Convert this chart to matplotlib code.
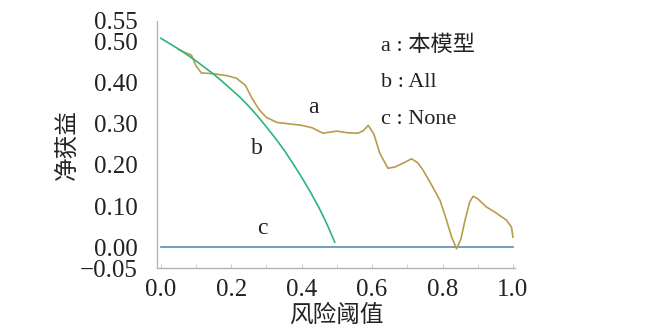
import matplotlib.pyplot as plt

# 阈值 / 净获益
x_a = [0.05, 0.07, 0.087, 0.10, 0.115, 0.15, 0.19, 0.215, 0.24, 0.26, 0.28, 0.30,
       0.33, 0.36, 0.40, 0.43, 0.46, 0.50, 0.53, 0.56, 0.575, 0.589, 0.605, 0.622,
       0.645, 0.665, 0.69, 0.712, 0.73, 0.745, 0.77, 0.793, 0.81, 0.826, 0.84,
       0.852, 0.864, 0.877, 0.887, 0.90, 0.925, 0.95, 0.982, 0.996, 1.0]
y_a = [0.480, 0.472, 0.466, 0.440, 0.423, 0.421, 0.416, 0.410, 0.393, 0.360, 0.333, 0.315,
       0.303, 0.300, 0.296, 0.290, 0.277, 0.282, 0.278, 0.277, 0.283, 0.296, 0.275, 0.228,
       0.192, 0.195, 0.205, 0.215, 0.205, 0.187, 0.150, 0.114, 0.070, 0.025, -0.003,
       0.020, 0.066, 0.110, 0.124, 0.118, 0.098, 0.085, 0.066, 0.049, 0.025]

x_b = [0.0, 0.025, 0.05, 0.075, 0.10, 0.125, 0.15, 0.175, 0.20, 0.225, 0.25,
       0.275, 0.30, 0.325, 0.35, 0.375, 0.40, 0.425, 0.45, 0.47, 0.494]
y_b = [0.507, 0.494, 0.481, 0.467, 0.452, 0.436, 0.420, 0.402, 0.383, 0.364, 0.342,
       0.318, 0.292, 0.265, 0.236, 0.204, 0.170, 0.134, 0.095, 0.060, 0.013]

x_c = [0.0, 1.0]
y_c = [0.0, 0.0]

yticks = [-0.05, 0.00, 0.10, 0.20, 0.30, 0.40, 0.50, 0.55]
ytick_labels = ['−0.05', '0.00', '0.10', '0.20', '0.30', '0.40', '0.50', '0.55']
xticks = [0.0, 0.2, 0.4, 0.6, 0.8, 1.0]

fam = ['Liberation Serif', 'Noto Sans CJK SC']
plt.rcParams['font.family'] = fam

fig = plt.figure(figsize=(6.68, 3.31), dpi=100)
ax = fig.add_axes([0.235, 0.190, 0.536, 0.748])

ax.plot(x_c, y_c, color='#5b8db5', lw=1.2)
ax.plot(x_a, y_a, color='#b89c4e', lw=1.2)
ax.plot(x_b, y_b, color='#2db37d', lw=1.2)

ax.set_xlim(-0.011, 1.006)
ax.set_ylim(-0.05, 0.55)
ax.set_yticks(yticks)
ax.set_yticklabels(ytick_labels)
ax.set_xticks(xticks)
ax.set_xticklabels(['0.0', '0.2', '0.4', '0.6', '0.8', '1.0'])
ax.set_xticks([0.1, 0.3, 0.5, 0.7, 0.9], minor=True)
ax.tick_params(axis='y', length=0, labelsize=18, colors='#222222', pad=14)
ax.tick_params(axis='x', which='both', direction='in', length=3, color='#cccccc',
               labelsize=18, labelcolor='#222222', pad=8)

for s in ['top', 'right']:
    ax.spines[s].set_visible(False)
for s in ['left', 'bottom']:
    ax.spines[s].set_color('#b5b5b5')
    ax.spines[s].set_linewidth(1.0)

ax.set_xlabel('风险阈值', fontsize=17, color='#222222', labelpad=2)
ax.set_ylabel('净获益', fontsize=17, color='#222222', labelpad=1)

ax.text(0.432, 0.34, 'a', fontsize=17, ha='center', va='center', color='#222222')
ax.text(0.273, 0.24, 'b', fontsize=17, ha='center', va='center', color='#222222')
ax.text(0.287, 0.046, 'c', fontsize=17, ha='center', va='center', color='#222222')

ax.text(0.625, 0.49, 'a : 本模型', fontsize=16, ha='left', va='center', color='#222222')
ax.text(0.625, 0.40, 'b : All', fontsize=16, ha='left', va='center', color='#222222')
ax.text(0.625, 0.31, 'c : None', fontsize=16, ha='left', va='center', color='#222222')

fig.savefig('out.png', dpi=100)
